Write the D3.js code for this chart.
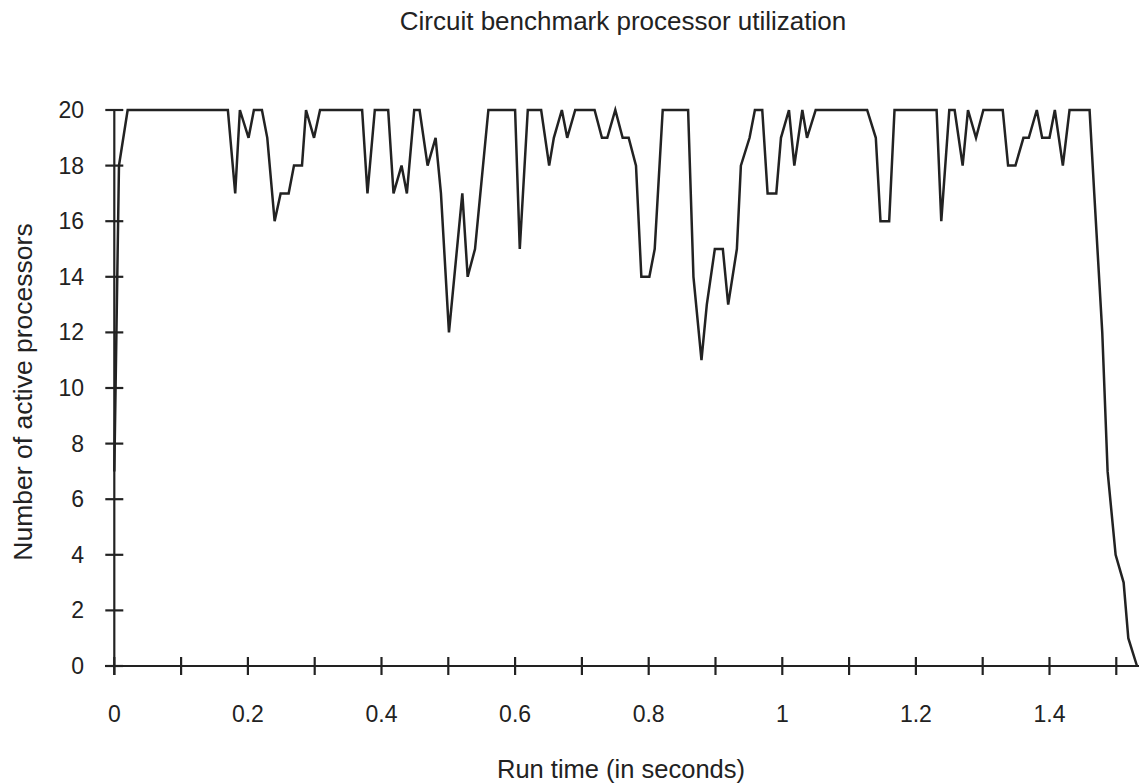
<!DOCTYPE html>
<html>
<head>
<meta charset="utf-8">
<script src="https://cdn.jsdelivr.net/npm/d3@7"></script>
<style>
    body { margin: 0; background: #fff; }
    svg { display: block; }
    text { font-family: "Liberation Sans", Arial, Helvetica, sans-serif; fill: #222; }
    .axis path, .axis line { stroke: #222; stroke-width: 2.2; }
    .line { fill: none; stroke: #222; stroke-width: 2.5; stroke-linejoin: miter; }
</style>
</head>
<body>
<div id="chart"></div>
<script>
// Run time (seconds) and number of active processors
let runTime = [
    0, 0.007, 0.020, 0.170, 0.181, 0.188, 0.201, 0.209, 0.221, 0.229,
    0.240, 0.249, 0.261, 0.269, 0.281, 0.287, 0.299, 0.308, 0.371, 0.379,
    0.390, 0.410, 0.418, 0.430, 0.438, 0.449, 0.457, 0.469, 0.481, 0.489,
    0.501, 0.509, 0.521, 0.529, 0.540, 0.548, 0.560, 0.600, 0.607, 0.619,
    0.639, 0.651, 0.658, 0.670, 0.678, 0.690, 0.719, 0.730, 0.738, 0.750,
    0.761, 0.770, 0.781, 0.789, 0.801, 0.809, 0.821, 0.859, 0.867, 0.879,
    0.887, 0.899, 0.911, 0.919, 0.932, 0.938, 0.951, 0.959, 0.970, 0.978,
    0.991, 0.998, 1.010, 1.018, 1.030, 1.037, 1.050, 1.127, 1.140, 1.147,
    1.160, 1.168, 1.231, 1.238, 1.250, 1.258, 1.270, 1.278, 1.290, 1.301,
    1.330, 1.338, 1.349, 1.361, 1.369, 1.381, 1.389, 1.400, 1.408, 1.420,
    1.430, 1.460, 1.467, 1.479, 1.487, 1.499, 1.511, 1.518, 1.531
];
let activeProcs = [
    7, 18, 20, 20, 17, 20, 19, 20, 20, 19,
    16, 17, 17, 18, 18, 20, 19, 20, 20, 17,
    20, 20, 17, 18, 17, 20, 20, 18, 19, 17,
    12, 14, 17, 14, 15, 17, 20, 20, 15, 20,
    20, 18, 19, 20, 19, 20, 20, 19, 19, 20,
    19, 19, 18, 14, 14, 15, 20, 20, 14, 11,
    13, 15, 15, 13, 15, 18, 19, 20, 20, 17,
    17, 19, 20, 18, 20, 19, 20, 20, 19, 16,
    16, 20, 20, 16, 20, 20, 18, 20, 19, 20,
    20, 18, 18, 19, 19, 20, 19, 19, 20, 18,
    20, 20, 17, 12, 7, 4, 3, 1, 0
];

let xTicks = [0, 0.1, 0.2, 0.3, 0.4, 0.5, 0.6, 0.7, 0.8, 0.9, 1, 1.1, 1.2, 1.3, 1.4, 1.5];
let xTickLabels = [0, 0.2, 0.4, 0.6, 0.8, 1, 1.2, 1.4];
let yTicks = [0, 2, 4, 6, 8, 10, 12, 14, 16, 18, 20];

let chartTitle = "Circuit benchmark processor utilization";
let xTitle = "Run time (in seconds)";
let yTitle = "Number of active processors";

let data = runTime.map((t, i) => ({ time: t, active: activeProcs[i] }));

let width = 1139, height = 783;

let svg = d3.select("#chart").append("svg")
    .attr("width", width)
    .attr("height", height);

// Scales
let x = d3.scaleLinear()
    .domain([0, 1.534])
    .range([114.3, 1139]);

let y = d3.scaleLinear()
    .domain([0, 20])
    .range([666, 110]);

// X axis: line runs off the right edge, ticks cross the line
let xAxisG = svg.append("g").attr("class", "x-axis axis");
xAxisG.append("line")
    .attr("x1", 105).attr("x2", width + 10)
    .attr("y1", y(0)).attr("y2", y(0));
xAxisG.selectAll(".xtick")
    .data(xTicks)
    .enter().append("line")
    .attr("class", "xtick")
    .attr("x1", d => x(d)).attr("x2", d => x(d))
    .attr("y1", y(0) - 9).attr("y2", y(0) + 9);
xAxisG.selectAll(".xlabel")
    .data(xTickLabels)
    .enter().append("text")
    .attr("class", "xlabel")
    .attr("x", d => x(d))
    .attr("y", 722)
    .attr("text-anchor", "middle")
    .style("font-size", "23px")
    .text(d => d3.format("~g")(d));

// Y axis
let yAxisG = svg.append("g").attr("class", "y-axis axis");
yAxisG.append("line")
    .attr("x1", x(0)).attr("x2", x(0))
    .attr("y1", y(20)).attr("y2", y(0) + 9);
yAxisG.selectAll(".ytick")
    .data(yTicks)
    .enter().append("line")
    .attr("class", "ytick")
    .attr("x1", x(0) - 9).attr("x2", x(0) + 9)
    .attr("y1", d => y(d)).attr("y2", d => y(d));
yAxisG.selectAll(".ylabel")
    .data(yTicks)
    .enter().append("text")
    .attr("class", "ylabel")
    .attr("x", 84)
    .attr("y", d => y(d) + 8)
    .attr("text-anchor", "end")
    .style("font-size", "23px")
    .text(d => d);

// The utilization line
let line = d3.line()
    .x(d => x(d.time))
    .y(d => y(d.active));

svg.append("path")
    .datum(data)
    .attr("class", "line")
    .attr("d", line);

// Titles
svg.append("text")
    .attr("x", 623)
    .attr("y", 30)
    .attr("text-anchor", "middle")
    .style("font-size", "26px")
    .text(chartTitle);

svg.append("text")
    .attr("x", 621)
    .attr("y", 778)
    .attr("text-anchor", "middle")
    .style("font-size", "25.5px")
    .text(xTitle);

svg.append("text")
    .attr("transform", "translate(32," + 392 + ") rotate(-90)")
    .attr("text-anchor", "middle")
    .style("font-size", "26.5px")
    .text(yTitle);
</script>
</body>
</html>
